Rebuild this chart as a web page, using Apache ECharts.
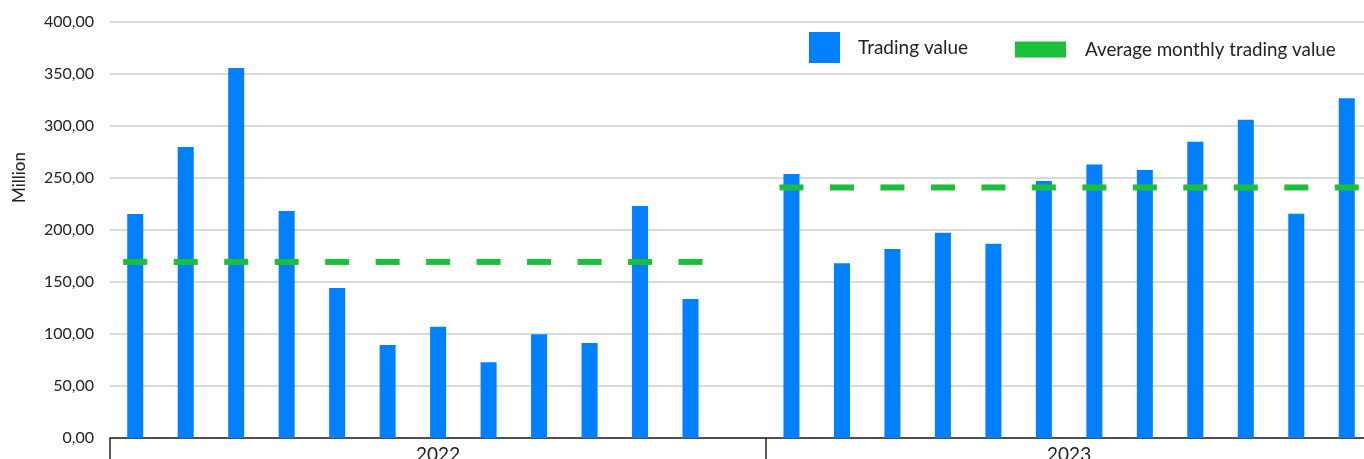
<!DOCTYPE html>
<html>
<head>
<meta charset="utf-8">
<script src="https://cdn.jsdelivr.net/npm/echarts@6/dist/echarts.min.js"></script>
<style>html,body{margin:0;padding:0;background:#fff;}#c{width:1364px;height:459px;}</style>
</head>
<body>
<div id="c"></div>
<script>
const months = ['2022-01','2022-02','2022-03','2022-04','2022-05','2022-06','2022-07','2022-08','2022-09','2022-10','2022-11','2022-12','',
  '2023-01','2023-02','2023-03','2023-04','2023-05','2023-06','2023-07','2023-08','2023-09','2023-10','2023-11','2023-12'];
const tradingValue = [215.4,279.8,355.8,218.3,144.2,89.4,107.0,72.8,99.7,91.3,223.0,133.7,'-',
  253.8,168.0,181.7,197.4,186.8,247.1,263.1,257.7,284.9,306.1,215.7,326.6];
const avgMonthly = [169.3,169.3,169.3,169.3,169.3,169.3,169.3,169.3,169.3,169.3,169.3,169.3,'-',
  240.9,240.9,240.9,240.9,240.9,240.9,240.9,240.9,240.9,240.9,240.9,240.9];
const years = ['2022','2023'];
const yearCenters = [6.5, 19];
const yearBounds = [0, 13, 25];
const yTicks = {min:0, max:400, interval:50};

const chart = echarts.init(document.getElementById('c'), null, {renderer:'canvas'});
const font = 'Lato, "Open Sans", sans-serif';
chart.setOption({
  animation:false,
  backgroundColor:'#fff',
  grid:{left:110, right:-8, top:22, bottom:21, containLabel:false, outerBoundsMode:'none'},
  legend:[
    {data:[{name:'Trading value', icon:'rect'}], left:809, top:32, padding:0, itemWidth:31, itemHeight:31,
     textStyle:{fontFamily:font, fontSize:19, color:'#222', padding:[0,0,0,13]}},
    {data:[{name:'Average monthly trading value', icon:'rect'}], left:1015, top:40, padding:0, itemWidth:51, itemHeight:16,
     textStyle:{fontFamily:font, fontSize:18.8, color:'#222', padding:[0,0,0,14]}}
  ],
  xAxis:[
    {type:'category', data:months, boundaryGap:true,
     axisLine:{show:true, lineStyle:{color:'#222', width:1.5}},
     axisTick:{show:false}, axisLabel:{show:false}, splitLine:{show:false}},
    {type:'value', min:0, max:25, position:'bottom', gridIndex:0,
     axisLine:{show:false},
     axisTick:{show:true, customValues:yearBounds, length:30, lineStyle:{color:'#222', width:1.5}},
     axisLabel:{show:true, customValues:yearCenters, margin:7, fontFamily:font, fontSize:19, color:'#222',
       formatter:function(v){ const i = yearCenters.indexOf(v); return i>=0 ? years[i] : ''; }},
     splitLine:{show:false}}
  ],
  yAxis:{type:'value', min:yTicks.min, max:yTicks.max, interval:yTicks.interval,
    axisLine:{show:false}, axisTick:{show:false},
    axisLabel:{margin:16, fontFamily:font, fontSize:16, color:'#222',
      formatter:function(v){ return v.toFixed(2).replace('.',','); }},
    splitLine:{show:true, lineStyle:{color:'#dadada', width:2}}},
  graphic:[{type:'text', left:11, top:152, rotation:Math.PI/2,
    style:{text:'Million', fontFamily:font, fontSize:17, fill:'#222'}}],
  series:[
    {name:'Trading value', type:'bar', xAxisIndex:0, data:tradingValue, barWidth:16,
     itemStyle:{color:'#007FFF'}},
    {name:'Average monthly trading value', type:'scatter', xAxisIndex:0, data:avgMonthly,
     symbol:'rect', symbolSize:[24,6], itemStyle:{color:'#1DBE3A', opacity:1}, z:3}
  ]
});
</script>
</body>
</html>
